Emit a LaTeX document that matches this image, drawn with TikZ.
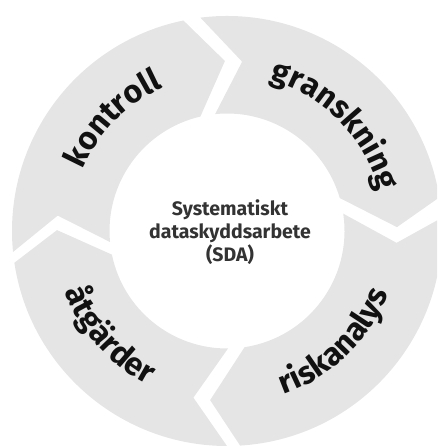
\documentclass[tikz,border=0pt]{standalone}
\usepackage{fontspec}
\setmainfont{Fira Sans}
\usetikzlibrary{decorations.text}
\definecolor{ringgray}{HTML}{E5E5E5}
\definecolor{centertext}{HTML}{333333}
\definecolor{arctext}{HTML}{111111}
\newcommand\curvefont{\fontsize{32}{38}\selectfont\bfseries\color{arctext}}
\newcommand\RingOut{215}
\newcommand\RingIn{117.5}
\newcommand\RingMid{170}
% #1 tail outer, #2 tail inner, #3 notch, #4 head outer, #5 head inner, #6 apex
\newcommand\ringseg[6]{%
  \fill[ringgray] (#1:\RingOut) arc[start angle=#1, end angle=#4, radius=\RingOut]
    -- (#6:\RingMid) -- (#5:\RingIn) arc[start angle=#5, end angle=#2, radius=\RingIn]
    -- (#3:\RingMid) -- cycle;}
% clockwise text (tops outward): #1 centre angle, #2 radius, #3 text
\newcommand\cwtext[3]{%
  \path[decorate, decoration={text along path, text align=center,
      text={|\curvefont|#3}}]
    ({#1+45}:#2) arc[start angle={#1+45}, end angle={#1-45}, radius=#2];}
% counter-clockwise text (tops inward)
\newcommand\ccwtext[3]{%
  \path[decorate, decoration={text along path, text align=center,
      text={|\curvefont|#3}}]
    ({#1-45}:#2) arc[start angle={#1-45}, end angle={#1+45}, radius=#2];}
\begin{document}
\begin{tikzpicture}[x=1pt,y=1pt]
\useasboundingbox (0,0) rectangle (437,446);
\clip (0,0) rectangle (437,446);
\begin{scope}[shift={(227,215)}]
  \ringseg{185.6}{185.4}{174.8}{101.7}{103.1}{90.7}
  \ringseg{97.1}{95.8}{84.9}{9}{16.3}{1.3}
  \ringseg{3.5}{8.5}{-4}{-86.5}{-81.4}{-95.7}
  \ringseg{-90}{-89.5}{-101.4}{-171.5}{-168.4}{-180.3}
  \cwtext{135.5}{157}{kontroll}
  \cwtext{44.5}{157}{granskning}
  \ccwtext{-46}{173}{riskanalys}
  \ccwtext{221.5}{173}{åtgärder}
  \node[align=center, text=centertext, font=\fontsize{19.5}{23}\selectfont\bfseries]
    (sda) at (3,-1) {Systematiskt\\dataskyddsarbete\\(SDA)};
\end{scope}
\end{tikzpicture}
\end{document}
